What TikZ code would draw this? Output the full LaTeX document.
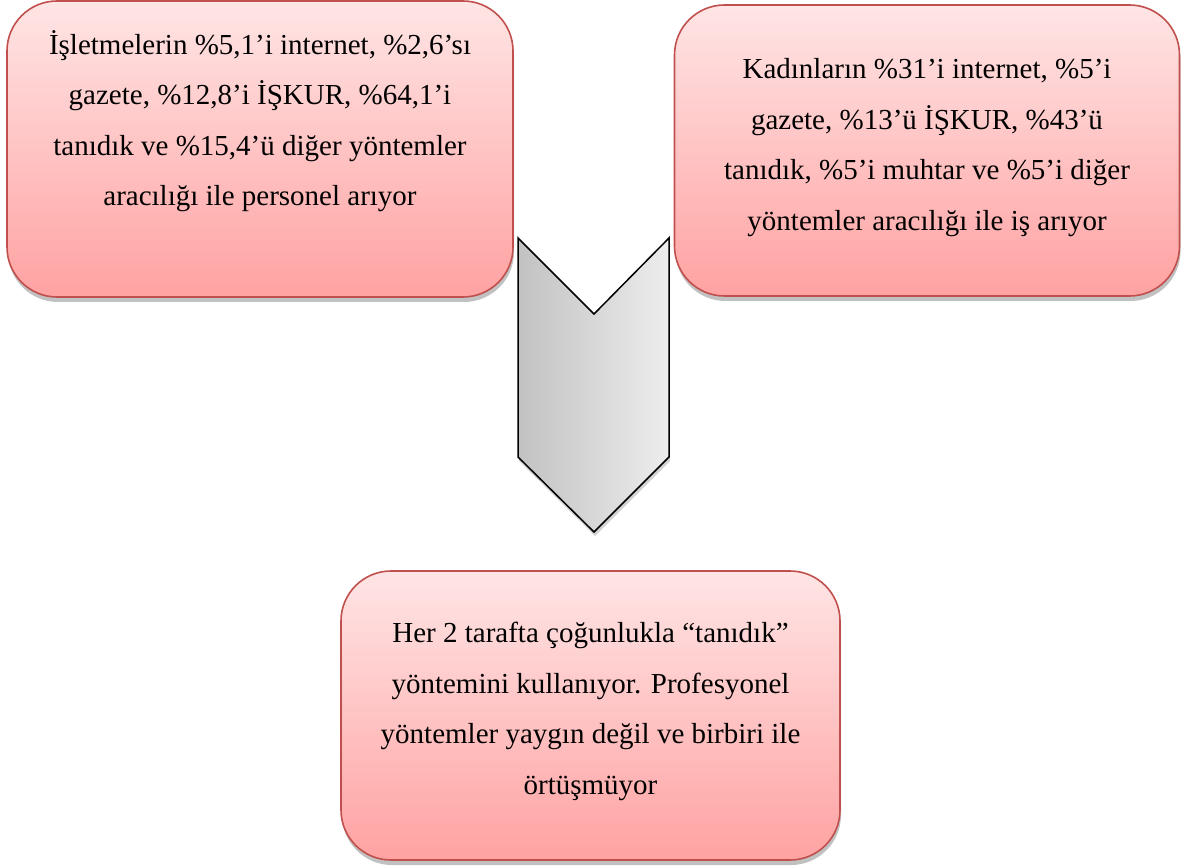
\documentclass[tikz,border=0pt]{standalone}
\usepackage{fontspec}
\setmainfont{Liberation Serif}
\usetikzlibrary{positioning,shadows}

\definecolor{boxtop}{RGB}{255,229,229}
\definecolor{boxbot}{RGB}{255,162,162}
\definecolor{boxline}{RGB}{192,80,77}

\begin{document}
\begin{tikzpicture}[x=1pt,y=-1pt,
  box/.style={draw=boxline,line width=1.6pt,rounded corners=50pt,
    top color=boxtop,bottom color=boxbot,
    drop shadow={shadow xshift=1pt,shadow yshift=-5pt,opacity=0.35,fill=black!70}},
  txt/.style={align=center,font=\fontsize{29}{50.5}\selectfont}]
\useasboundingbox (0,0) rectangle (1198,866);

\node[box,minimum width=506pt,minimum height=296pt](firms) at (260,149){};
\node[box,minimum width=505pt,minimum height=291pt](women) at (927,150.5){};
\node[box,minimum width=499pt,minimum height=289pt](both) at (590.5,715.5){};

\node[txt](firmstxt) at ([yshift=28pt]firms.center){İşletmelerin \%5,1’i internet, \%2,6’sı\\gazete, \%12,8’i İŞKUR, \%64,1’i\\tanıdık ve \%15,4’ü diğer yöntemler\\aracılığı ile personel arıyor};
\node[txt](womentxt) at ([yshift=3pt]women.center){Kadınların \%31’i internet, \%5’i\\gazete, \%13’ü İŞKUR, \%43’ü\\tanıdık, \%5’i muhtar ve \%5’i diğer\\yöntemler aracılığı ile iş arıyor};
\node[txt](bothtxt) at ([yshift=4pt]both.center){Her 2 tarafta çoğunlukla “tanıdık”\\yöntemini kullanıyor. Profesyonel\\yöntemler yaygın değil ve birbiri ile\\örtüşmüyor};

% chevron pointing down to the summary
\path[draw=black,line width=1.5pt,left color=black!24,right color=black!7,
  drop shadow={shadow xshift=1pt,shadow yshift=-4pt,opacity=0.35}]
  (518,238) -- (594,314) -- (669,238) -- (669,457) -- (594,532) -- (518,457) -- cycle;

\end{tikzpicture}
\end{document}
